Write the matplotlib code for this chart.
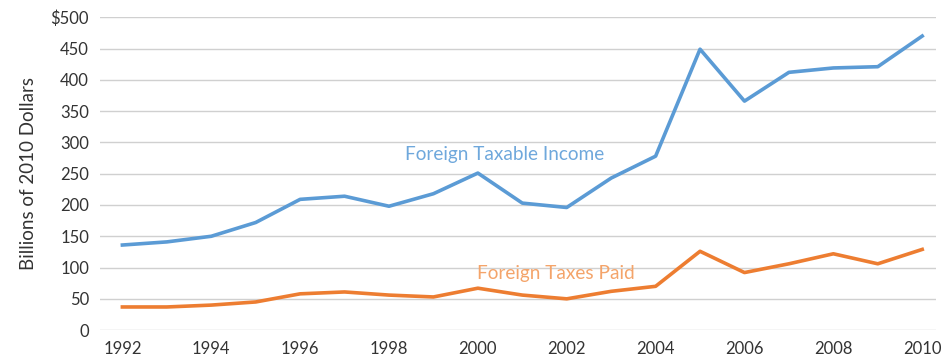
import matplotlib.pyplot as plt
import numpy as np

# foreign income and foreign taxes, billions of 2010 dollars
years = np.arange(1992, 2011)
taxable_income = [136, 141, 150, 172, 209, 214, 198, 218, 251, 203,
                  196, 243, 278, 449, 366, 412, 419, 421, 470]
taxes_paid = [37, 37, 40, 45, 58, 61, 56, 53, 67, 56,
              50, 62, 70, 126, 92, 106, 122, 106, 129]

plt.rcParams['font.family'] = ['Lato', 'DejaVu Sans']

fig, ax = plt.subplots(figsize=(9.45, 3.6), dpi=100)
fig.subplots_adjust(left=0.106, right=0.99, top=0.952, bottom=0.083)

ax.plot(years, taxable_income, color='#5b9bd5', lw=2.6)
ax.plot(years, taxes_paid, color='#ed7d31', lw=2.6)

ax.text(2000.6, 280, 'Foreign Taxable Income', color='#6fa8dc',
        fontsize=13.7, ha='center', va='center')
ax.text(2001.75, 91, 'Foreign Taxes Paid', color='#f4a46a',
        fontsize=13.7, ha='center', va='center')

ax.set_xlim(1991.5, 2010.3)
ax.set_ylim(0, 500)
ax.set_xticks(np.arange(1992, 2011, 2))
yt = np.arange(0, 501, 50)
ax.set_yticks(yt)
ax.set_yticklabels([('$' + str(v)) if v == 500 else str(v) for v in yt])
ax.tick_params(length=0, labelsize=12, colors='#333333', pad=8)
ax.set_ylabel('Billions of 2010 Dollars', fontsize=13.5, color='#333333', labelpad=10)

ax.grid(axis='y', color='#d0d0d0', lw=1)
ax.set_axisbelow(True)
for s in ax.spines.values():
    s.set_visible(False)

plt.savefig('out.png')
